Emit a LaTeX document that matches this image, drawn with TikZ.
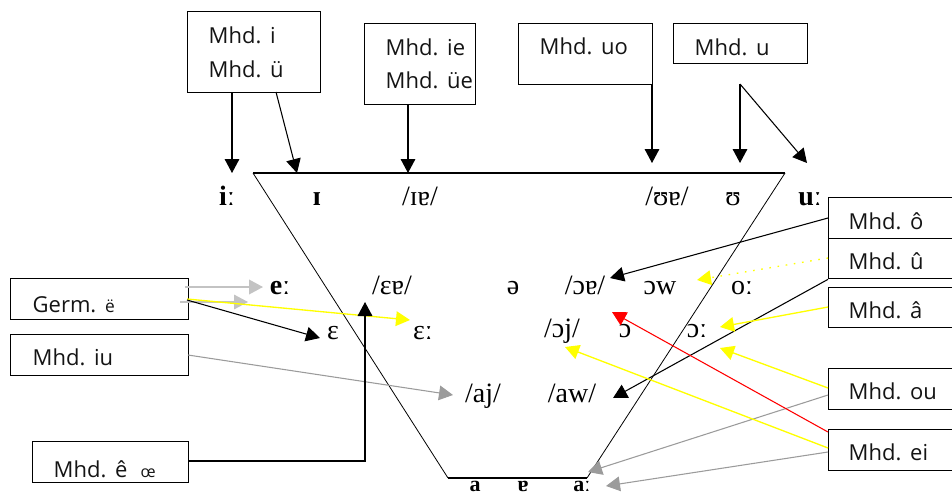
\documentclass[tikz,border=0pt]{standalone}
\usepackage{fontspec}
\setmainfont{Liberation Serif}
\newfontfamily\boxfont{Open Sans}
\usetikzlibrary{arrows.meta}
\definecolor{lgray}{RGB}{195,195,195}
\definecolor{mgray}{RGB}{155,155,155}
\definecolor{yel}{RGB}{255,255,0}
\definecolor{boxtext}{RGB}{20,20,20}
\newcommand\gap{\hspace{0.4em}}
\newcommand\ind{\hspace*{15.75pt}}
\begin{document}
\begin{tikzpicture}[x=0.75pt,y=-0.75pt,
  box/.style={draw, line width=1pt, anchor=north west, inner xsep=0pt, inner ysep=0pt,
    align=left, text=boxtext, font=\boxfont\fontsize{16.5}{25}\selectfont},
  ipa/.style={anchor=base, inner sep=0pt, font=\fontsize{21}{21}\selectfont},
  ipab/.style={ipa, font=\fontsize{21}{21}\selectfont\bfseries},
  ipalow/.style={ipa, font=\fontsize{16.5}{16.5}\selectfont\bfseries},
  conn/.style={line width=0.8pt, -{Triangle[length=10.5pt,width=11pt]}},
  trap/.style={line width=0.6pt},
]
\useasboundingbox (0,0) rectangle (952,497);
\clip (0,0) rectangle (952,497);

% ---- trapezoid
\draw[line width=1.2pt] (253,173) -- (785,173);
\draw[line width=1.2pt] (448,478) -- (587,478);
\draw[trap] (253,173) -- (448,478);
\draw[trap] (785,173) -- (587,478);

% ---- boxes
\node[box, text width=99.75pt, minimum height=60.75pt] (mi) at (187,11) {\ind Mhd.\gap i\\\ind Mhd.\gap ü};
\node[box, text width=83.25pt, minimum height=60.75pt, font=\boxfont\fontsize{16.5}{24.75}\selectfont] (mie) at (364,23) {\ind Mhd.\gap ie\\\ind Mhd.\gap üe};
\node[box, text width=100.5pt, text height=23.25pt, text depth=22.5pt] (muo) at (518,23) {\ind Mhd.\gap uo};
\node[box, text width=100.5pt, text height=24pt, text depth=6pt] (mu) at (673,23) {\ind Mhd.\gap u};

\node[box, text width=97.5pt, text height=24pt, text depth=6.75pt] (mo) at (828,197) {\hspace*{15pt}Mhd.\gap ô};
\node[box, text width=97.5pt, text height=23.25pt, text depth=6.75pt] (muu) at (828,238) {\hspace*{15pt}Mhd.\gap û};
\node[box, text width=97.5pt, text height=23.25pt, text depth=6.75pt] (ma) at (828,287) {\hspace*{15pt}Mhd.\gap â};
\node[box, text width=97.5pt, text height=23.25pt, text depth=7.5pt] (mou) at (828,368) {\hspace*{15pt}Mhd.\gap ou};
\node[box, text width=97.5pt, text height=23.25pt, text depth=7.5pt] (mei) at (828,429) {\hspace*{15pt}Mhd.\gap ei};

\node[box, text width=133.5pt, text height=25.5pt, text depth=5.25pt] (germ) at (10,278) {\hspace*{16.5pt}Germ.\gap{\fontsize{13}{13}\selectfont ë}};
\node[box, text width=133.5pt, text height=23.25pt, text depth=7.5pt] (miu) at (10,334) {\hspace*{16.5pt}Mhd.\gap iu};
\node[box, text width=117pt, text height=27pt, text depth=3.75pt] (mec) at (32,441) {\ind Mhd.\gap ê\hspace{0.6em}{\fontsize{12}{12}\selectfont œ}};

% ---- vowel labels
\node[ipab] (ii)  at (227,205) {iː};
\node[ipab] (ih)  at (317,205) {ɪ};
\node[ipa]  (ie)  at (420,205) {/ɪɐ/};
\node[ipa]  (ue)  at (667,205) {/ʊɐ/};
\node[ipa]  (uh)  at (733,205) {ʊ};
\node[ipab] (uu)  at (810,205) {uː};

\node[ipab] (ee)  at (280,294) {eː};
\node[ipa]  (ehe) at (392,294) {/ɛɐ/};
\node[ipa]  (schwa) at (513,294) {ə};
\node[ipa]  (oe)  at (585,294) {/ɔɐ/};
\node[ipa]  (ow)  at (660,294) {ɔw};
\node[ipa]  (oo)  at (742,294) {oː};

\node[ipa]  (eh)  at (333,339) {ɛ};
\node[ipa]  (ehh) at (423,339) {ɛː};
\node[ipa]  (oj)  at (562,337) {/ɔj/};
\node[ipa]  (oh)  at (625,337) {ɔ};
\node[ipa]  (ohh) at (697,337) {ɔː};

\node[ipa]  (aj)  at (483,402) {/aj/};
\node[ipa]  (aw)  at (572,402) {/aw/};

\node[ipalow] (a)   at (475,491) {a};
\node[ipalow] (ae)  at (523,491) {ɐ};
\node[ipalow] (aa)  at (582,491) {aː};

% ---- coordinates of arrow ends
\coordinate (t-ii) at (232,173);
\coordinate (s-ih) at (276,92);
\coordinate (t-ih) at (297,173);
\coordinate (t-ie) at (408,173);
\coordinate (t-ue) at (652,163);
\coordinate (fork) at (740,84);
\coordinate (t-uh) at (740,163);
\coordinate (t-uu) at (807,163);

\coordinate (s-g1) at (185,287);
\coordinate (t-g1) at (263,287);
\coordinate (s-g2) at (180,302);
\coordinate (t-g2) at (248,302);
\coordinate (s-g3) at (187,299);
\coordinate (t-g3) at (410,320);
\coordinate (s-g4) at (187,300);
\coordinate (t-g4) at (320,338);
\coordinate (s-iu) at (188,355);
\coordinate (t-iu) at (453,395);
\coordinate (bend) at (365,461);
\coordinate (t-ec) at (365,302);

\coordinate (s-o)  at (828,218);
\coordinate (t-o)  at (610,278);
\coordinate (s-u1) at (828,258);
\coordinate (t-u1) at (697,280);
\coordinate (t-u2) at (613,398);
\coordinate (s-a)  at (828,307);
\coordinate (t-a)  at (720,327);
\coordinate (s-ou1) at (828,388);
\coordinate (t-ou1) at (720,348);
\coordinate (s-ou2) at (828,395);
\coordinate (t-ou2) at (588,472);
\coordinate (s-ei1) at (828,432);
\coordinate (t-ei1) at (612,312);
\coordinate (s-ei2) at (828,448);
\coordinate (t-ei2) at (565,347);
\coordinate (s-ei3) at (828,452);
\coordinate (t-ei3) at (606,486);

% ---- connectors, top
\draw[conn] (t-ii |- mi.south) -- (t-ii);
\draw[conn] (s-ih) -- (t-ih);
\draw[conn] (t-ie |- mie.south) -- (t-ie);
\draw[conn] (t-ue |- muo.south) -- (t-ue);
\draw[conn] (fork) -- (t-uh);
\draw[conn] (fork) -- (t-uu);

% ---- connectors, left
\draw[conn, lgray, line width=1.2pt] (s-g1) -- (t-g1);
\draw[conn, lgray] (s-g2) -- (t-g2);
\draw[conn, yel, line width=1pt] (s-g3) -- (t-g3);
\draw[conn] (s-g4) -- (t-g4);
\draw[conn, mgray] (s-iu) -- (t-iu);
\draw[conn] (mec.east |- bend) -- (bend) -- (t-ec);

% ---- connectors, right
\draw[conn] (s-o) -- (t-o);
\draw[conn, yel, line width=1pt, dash pattern=on 1.2pt off 5pt] (s-u1) -- (t-u1);
\draw[conn] (muu.south west) -- (t-u2);
\draw[conn, yel, line width=1pt] (s-a) -- (t-a);
\draw[conn, yel, line width=1pt] (s-ou1) -- (t-ou1);
\draw[conn, mgray] (s-ou2) -- (t-ou2);
\draw[conn, red] (s-ei1) -- (t-ei1);
\draw[conn, yel, line width=1pt] (s-ei2) -- (t-ei2);
\draw[conn, mgray] (s-ei3) -- (t-ei3);
\end{tikzpicture}
\end{document}
